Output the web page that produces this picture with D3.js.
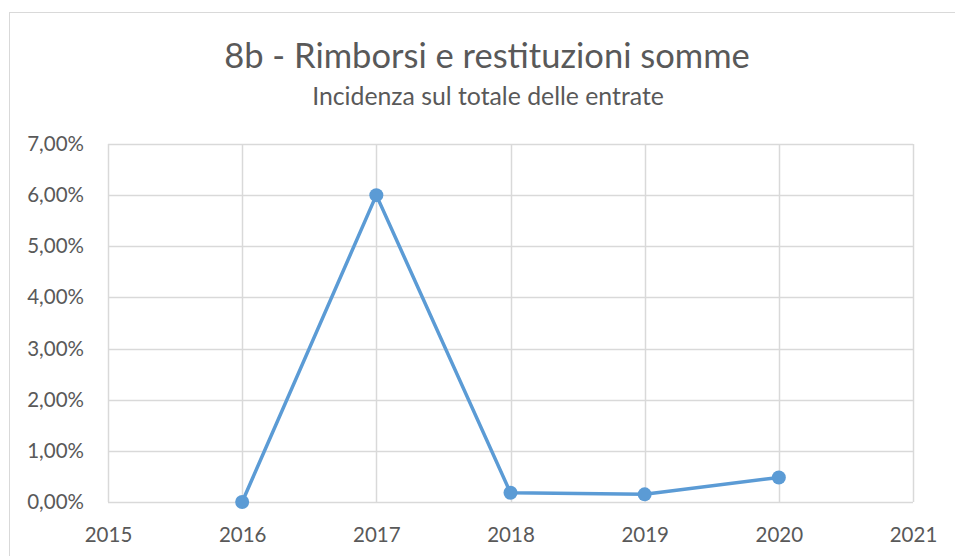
<!DOCTYPE html>
<html><head><meta charset="utf-8">
<script src="https://cdn.jsdelivr.net/npm/d3@7"></script>
<style>body{margin:0;background:#fff;font-family:Lato,"Open Sans",sans-serif;}</style>
</head><body>
<svg id="c" width="955" height="556"></svg>
<script>
const years = [2016, 2017, 2018, 2019, 2020];
const values = [0.0000, 0.0600, 0.0018, 0.0015, 0.0048];
const yTicks = [0, 0.01, 0.02, 0.03, 0.04, 0.05, 0.06, 0.07];
const xTicks = [2015, 2016, 2017, 2018, 2019, 2020, 2021];
const title = "8b - Rimborsi e restituzioni somme";
const subtitle = "Incidenza sul totale delle entrate";

const svg = d3.select("#c");
svg.append("rect").attr("x", 9.5).attr("y", 12.5).attr("width", 960).attr("height", 560)
  .attr("fill", "#fff").attr("stroke", "#d9d9d9").attr("stroke-width", 1);

const m = {left: 108, right: 913, top: 144, bottom: 502};
const x = d3.scaleLinear().domain([2015, 2021]).range([m.left, m.right]);
const y = d3.scaleLinear().domain([0, 0.07]).range([m.bottom, m.top]);

function fitText(t, size, target) {
  const w = t.node().getComputedTextLength();
  if (w > 0) t.attr("font-size", size * target / w);
}
const tt = svg.append("text").attr("x", 487).attr("y", 68).attr("text-anchor", "middle")
  .attr("font-size", 30).attr("fill", "#595959").text(title);
fitText(tt, 30, 526);
const st = svg.append("text").attr("x", 488).attr("y", 105).attr("text-anchor", "middle")
  .attr("font-size", 19).attr("fill", "#595959").text(subtitle);
fitText(st, 19, 352);

const grid = svg.append("g");
grid.selectAll("line.h").data(yTicks).join("line")
  .attr("x1", m.left).attr("x2", m.right)
  .attr("y1", d => Math.round(y(d)) + 0.5).attr("y2", d => Math.round(y(d)) + 0.5)
  .attr("stroke", "#d9d9d9").attr("stroke-width", 1.5);
grid.selectAll("line.v").data(xTicks).join("line")
  .attr("y1", m.top).attr("y2", m.bottom)
  .attr("x1", d => Math.round(x(d)) + 0.5).attr("x2", d => Math.round(x(d)) + 0.5)
  .attr("stroke", "#d9d9d9").attr("stroke-width", 1.5);

const fmt = d => d3.format(".2%")(d).replace(".", ",");
const yAxis = d3.axisLeft(y).tickValues(yTicks).tickFormat(fmt).tickSize(0).tickPadding(24);
const ya = svg.append("g").attr("transform", `translate(${m.left},0)`).call(yAxis);
ya.select(".domain").remove();
ya.selectAll("text").attr("font-size", 20.5).attr("fill", "#595959").attr("font-family", "Lato,'Open Sans',sans-serif");

const xAxis = d3.axisBottom(x).tickValues(xTicks).tickFormat(d3.format("d")).tickSize(0).tickPadding(25);
const xa = svg.append("g").attr("transform", `translate(0,${m.bottom})`).call(xAxis);
xa.select(".domain").remove();
xa.selectAll("text").attr("font-size", 20.5).attr("fill", "#595959").attr("font-family", "Lato,'Open Sans',sans-serif");

const data = years.map((yr, i) => ({yr, v: values[i]}));
svg.append("path").datum(data)
  .attr("d", d3.line().x(d => x(d.yr)).y(d => y(d.v)))
  .attr("fill", "none").attr("stroke", "#5B9BD5").attr("stroke-width", 3.5).attr("stroke-linejoin", "round");
svg.selectAll("circle.pt").data(data).join("circle")
  .attr("cx", d => x(d.yr)).attr("cy", d => y(d.v)).attr("r", 7)
  .attr("fill", "#5B9BD5");
</script>
</body></html>
